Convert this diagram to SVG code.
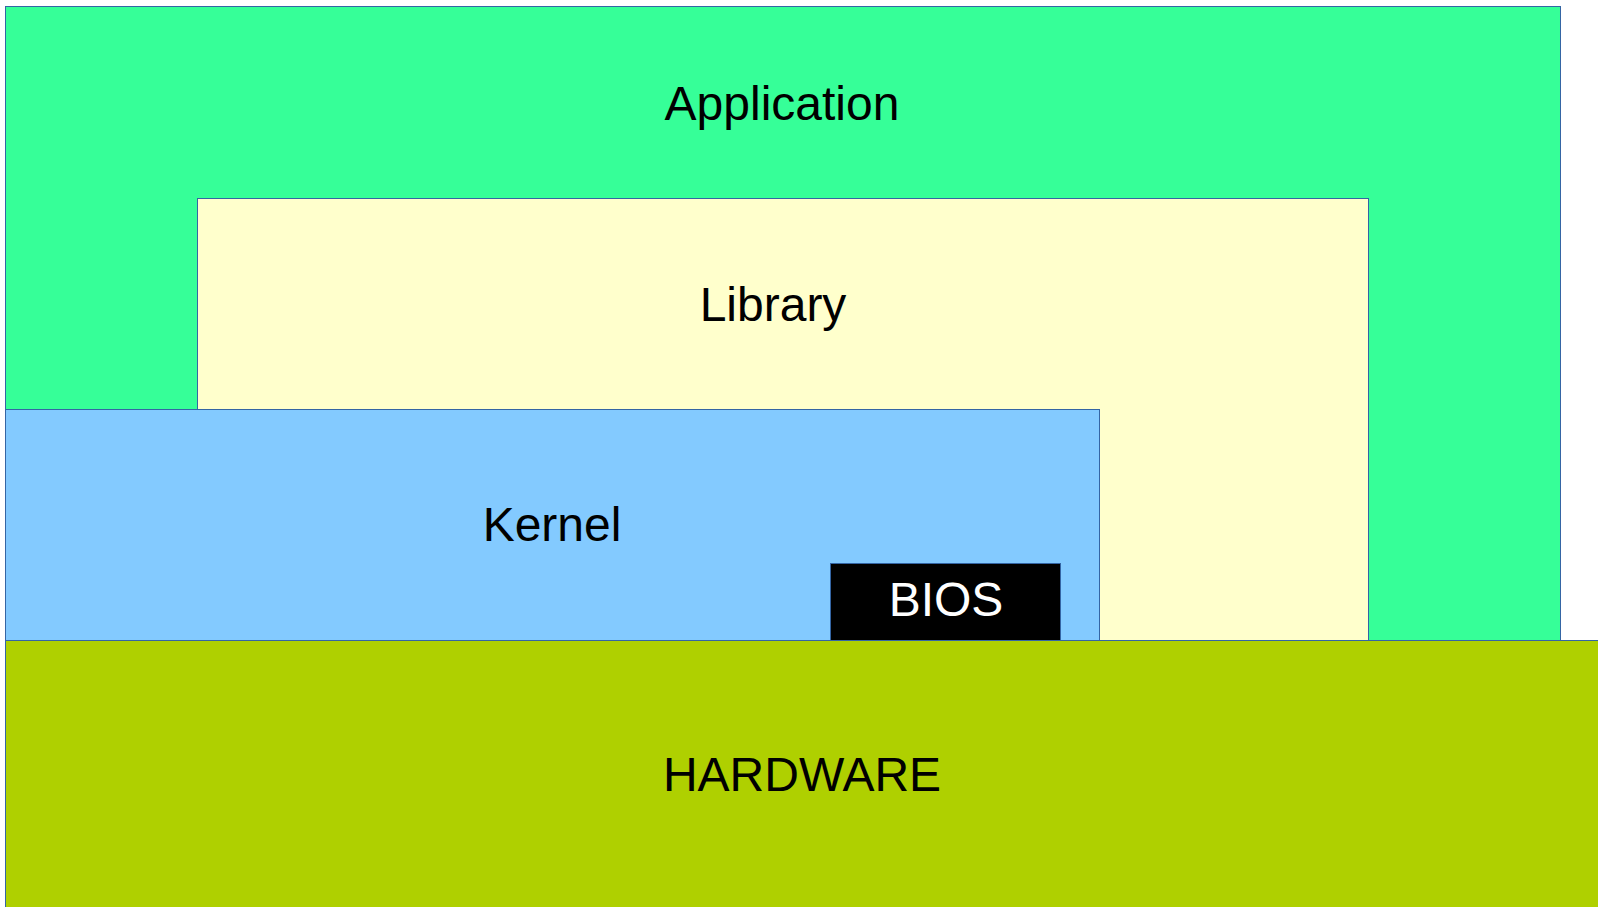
<svg xmlns="http://www.w3.org/2000/svg" width="1598" height="907" viewBox="0 0 1598 907">
  <style>
    .layer { stroke: #3465a4; stroke-width: 1; }
    .label { font-family: "Liberation Sans", Arial, sans-serif; font-size: 48px; text-anchor: middle; fill: #000000; }
    .label.light { fill: #ffffff; }
  </style>
  <rect x="0" y="0" width="1598" height="907" fill="#ffffff"/>
  <g id="application">
    <rect class="layer" x="5.5" y="6.5" width="1555" height="640" fill="#36ff98"/>
    <text class="label" x="782" y="120">Application</text>
  </g>
  <g id="library">
    <rect class="layer" x="197.5" y="198.5" width="1171" height="448" fill="#ffffcc"/>
    <text class="label" x="773" y="321">Library</text>
  </g>
  <g id="kernel">
    <rect class="layer" x="5.5" y="409.5" width="1094" height="237" fill="#83caff"/>
    <text class="label" x="552" y="541">Kernel</text>
  </g>
  <g id="bios">
    <rect class="layer" x="830.5" y="563.5" width="230" height="83" fill="#000000"/>
    <text class="label light" x="946" y="616">BIOS</text>
  </g>
  <g id="hardware">
    <rect class="layer" x="5.5" y="640.5" width="1600" height="280" fill="#afd000"/>
    <text class="label" x="802" y="791">HARDWARE</text>
  </g>
  <g id="connectors"/>
</svg>
